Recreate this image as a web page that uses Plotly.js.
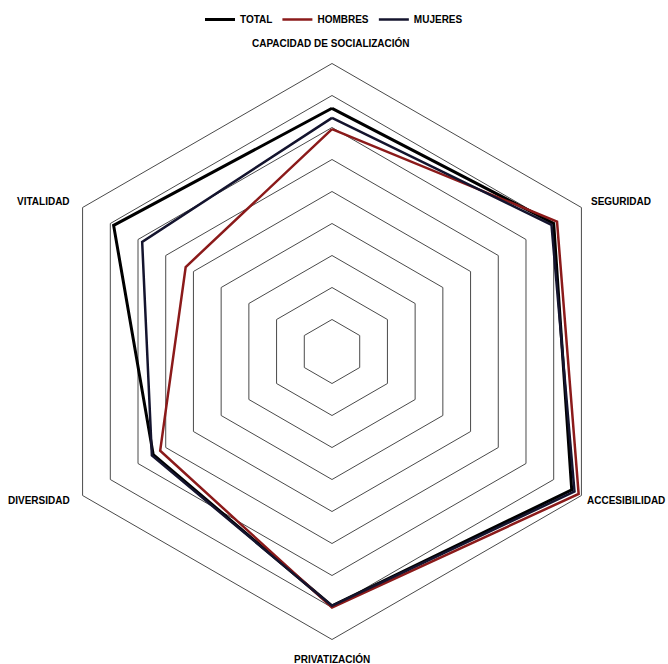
<!DOCTYPE html>
<html>
<head>
<meta charset="utf-8">
<script src="https://cdn.plot.ly/plotly-3.0.1.min.js"></script>
<style>html,body{margin:0;padding:0;background:#fff;}#chart{width:668px;height:664px;}</style>
</head>
<body>
<div id="chart"></div>
<script>
// Data
const categories = ["CAPACIDAD DE SOCIALIZACIÓN", "SEGURIDAD", "ACCESIBILIDAD", "PRIVATIZACIÓN", "DIVERSIDAD", "VITALIDAD"];
const seriesNames = ["TOTAL", "HOMBRES", "MUJERES"];
const totalValues = [7.6, 8.0, 8.65, 7.95, 6.45, 7.88];
const hombresValues = [6.95, 8.12, 8.9, 8.0, 6.2, 5.28];
const mujeresValues = [7.3, 7.92, 8.75, 7.95, 6.5, 6.85];

const FONT = '"Liberation Sans", Arial, sans-serif';
const W = 668, H = 664;

function closed(a){ return a.concat([a[0]]); }

const styles = [
  {color: '#000000', width: 3},
  {color: '#8b1a1a', width: 2.5},
  {color: '#14142e', width: 2.5}
];
const valuesList = [totalValues, hombresValues, mujeresValues];

const traces = seriesNames.map((n, i) => ({
  type: 'scatterpolar',
  mode: 'lines',
  name: n,
  r: closed(valuesList[i]),
  theta: closed(categories),
  line: {color: styles[i].color, width: styles[i].width},
  hoverinfo: 'skip'
}));

// label placement (pixels)
const labelPos = [
  {x: 331, y: 43, xanchor: 'center'},
  {x: 589, y: 201, xanchor: 'left'},
  {x: 667, y: 500, xanchor: 'right'},
  {x: 332, y: 659, xanchor: 'center'},
  {x: 72, y: 500, xanchor: 'right'},
  {x: 72, y: 201, xanchor: 'right'}
];
const annotations = categories.map((c, i) => ({
  text: '<b>' + c + '</b>',
  xref: 'paper', yref: 'paper',
  x: labelPos[i].x / W, y: 1 - labelPos[i].y / H,
  xanchor: labelPos[i].xanchor, yanchor: 'middle',
  showarrow: false,
  font: {family: FONT, size: 10, color: '#000'}
}));

const cx = 332, cy = 351.5, R = 288;
const layout = {
  width: W, height: H,
  margin: {l: 0, r: 0, t: 0, b: 0},
  paper_bgcolor: '#fff',
  plot_bgcolor: '#fff',
  showlegend: true,
  legend: {
    orientation: 'h',
    x: 0.5, xanchor: 'center',
    y: 1 - 5 / H, yanchor: 'top',
    font: {family: FONT, size: 10, color: '#000', weight: 'bold'},
    itemwidth: 30,
    traceorder: 'normal'
  },
  polar: {
    gridshape: 'linear',
    bgcolor: '#fff',
    domain: {x: [(cx - R) / W, (cx + R) / W], y: [1 - (cy + R) / H, 1 - (cy - R) / H]},
    radialaxis: {
      range: [0, 9], dtick: 1, tick0: 0,
      showticklabels: false, ticks: '',
      showline: false,
      gridcolor: '#4a4a4a', gridwidth: 1
    },
    angularaxis: {
      type: 'category',
      categoryarray: categories,
      rotation: 90, direction: 'clockwise',
      showticklabels: false, ticks: '',
      showgrid: false,
      showline: true, linecolor: '#4a4a4a', linewidth: 1
    }
  },
  annotations: annotations
};

Plotly.newPlot('chart', traces, layout, {displayModeBar: false, staticPlot: true});
</script>
</body>
</html>
